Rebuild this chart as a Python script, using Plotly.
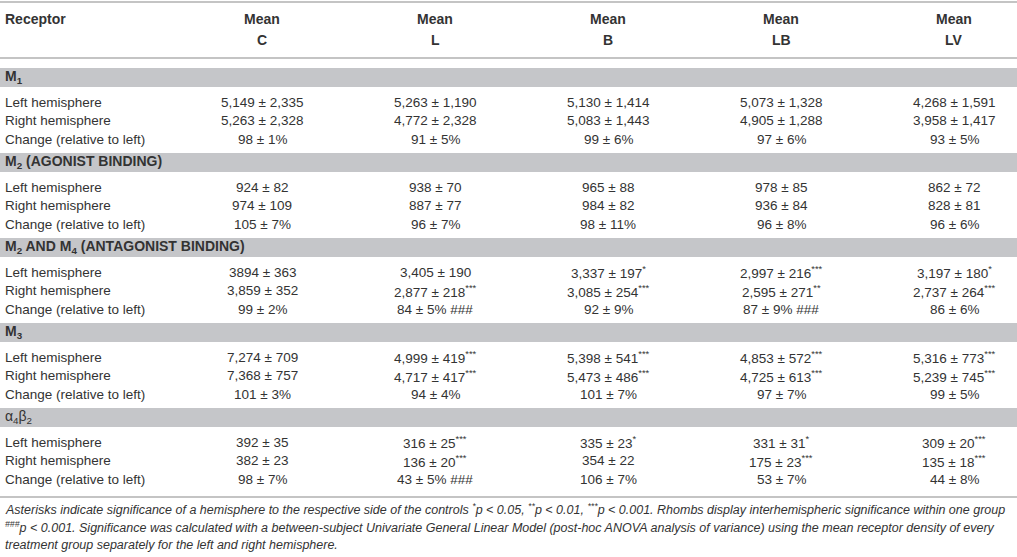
import plotly.graph_objects as go

# table content
groups = ["C", "L", "B", "LB", "LV"]
row_labels = ["Left hemisphere", "Right hemisphere", "Change (relative to left)"]
sections = [
    "<b>M<sub>1</sub></b>",
    "<b>M<sub>2</sub> (AGONIST BINDING)</b>",
    "<b>M<sub>2</sub> AND M<sub>4</sub> (ANTAGONIST BINDING)</b>",
    "<b>M<sub>3</sub></b>",
    "α<sub>4</sub>β<sub>2</sub>",
]

m1_rows = [
    ["5,149 ± 2,335", "5,263 ± 1,190", "5,130 ± 1,414", "5,073 ± 1,328", "4,268 ± 1,591"],
    ["5,263 ± 2,328", "4,772 ± 2,328", "5,083 ± 1,443", "4,905 ± 1,288", "3,958 ± 1,417"],
    ["98 ± 1%", "91 ± 5%", "99 ± 6%", "97 ± 6%", "93 ± 5%"],
]
m2_rows = [
    ["924 ± 82", "938 ± 70", "965 ± 88", "978 ± 85", "862 ± 72"],
    ["974 ± 109", "887 ± 77", "984 ± 82", "936 ± 84", "828 ± 81"],
    ["105 ± 7%", "96 ± 7%", "98 ± 11%", "96 ± 8%", "96 ± 6%"],
]
m2m4_rows = [
    ["3894 ± 363", "3,405 ± 190", "3,337 ± 197<sup>*</sup>", "2,997 ± 216<sup>***</sup>", "3,197 ± 180<sup>*</sup>"],
    ["3,859 ± 352", "2,877 ± 218<sup>***</sup>", "3,085 ± 254<sup>***</sup>", "2,595 ± 271<sup>**</sup>", "2,737 ± 264<sup>***</sup>"],
    ["99 ± 2%", "84 ± 5% ###", "92 ± 9%", "87 ± 9% ###", "86 ± 6%"],
]
m3_rows = [
    ["7,274 ± 709", "4,999 ± 419<sup>***</sup>", "5,398 ± 541<sup>***</sup>", "4,853 ± 572<sup>***</sup>", "5,316 ± 773<sup>***</sup>"],
    ["7,368 ± 757", "4,717 ± 417<sup>***</sup>", "5,473 ± 486<sup>***</sup>", "4,725 ± 613<sup>***</sup>", "5,239 ± 745<sup>***</sup>"],
    ["101 ± 3%", "94 ± 4%", "101 ± 7%", "97 ± 7%", "99 ± 5%"],
]
a4b2_rows = [
    ["392 ± 35", "316 ± 25<sup>***</sup>", "335 ± 23<sup>*</sup>", "331 ± 31<sup>*</sup>", "309 ± 20<sup>***</sup>"],
    ["382 ± 23", "136 ± 20<sup>***</sup>", "354 ± 22", "175 ± 23<sup>***</sup>", "135 ± 18<sup>***</sup>"],
    ["98 ± 7%", "43 ± 5% ###", "106 ± 7%", "53 ± 7%", "44 ± 8%"],
]
section_rows = [m1_rows, m2_rows, m2m4_rows, m3_rows, a4b2_rows]

footnote = [
    "Asterisks indicate significance of a hemisphere to the respective side of the controls <sup>*</sup>p &lt; 0.05, "
    "<sup>**</sup>p &lt; 0.01, <sup>***</sup>p &lt; 0.001. Rhombs display interhemispheric significance within one group",
    "<sup>###</sup>p &lt; 0.001. Significance was calculated with a between-subject Univariate General Linear Model "
    "(post-hoc ANOVA analysis of variance) using the mean receptor density of every",
    "treatment group separately for the left and right hemisphere.",
]

W, H = 1017, 557
txt = "#333333"
rule = "#c4c4c4"
band = "#c5c6c9"
font = "Liberation Sans, Arial, sans-serif"
col_x = [262, 435, 608, 781, 954]

fig = go.Figure()
fig.add_trace(go.Scatter(x=[0, W], y=[0, H], mode="markers", marker=dict(opacity=0), hoverinfo="skip"))

shapes = []
ann = []

def line(y):
    shapes.append(dict(type="line", x0=0, x1=W, y0=y, y1=y, line=dict(color=rule, width=2)))

def text(x, y, s, anchor="center", size=13.5, italic=False):
    ann.append(dict(x=x, y=y, text=s, showarrow=False, xanchor=anchor, yanchor="middle",
                    font=dict(family=font, size=size, color=txt,
                              style="italic" if italic else "normal")))

# header
line(2)
line(58)
text(3, 19, "<b>Receptor</b>", "left", size=14)
for cx, g in zip(col_x, groups):
    text(cx, 19, "<b>Mean</b>", size=14)
    text(cx, 40, "<b>%s</b>" % g, size=14)

# body
for i, (label, rows) in enumerate(zip(sections, section_rows)):
    top = 68 + 85 * i
    shapes.append(dict(type="rect", x0=0, x1=W, y0=top, y1=top + 19, fillcolor=band, line=dict(width=0), layer="below"))
    text(3, top + 9, label, "left", size=14)
    for j, (rl, vals) in enumerate(zip(row_labels, rows)):
        y = top + 34 + 18.5 * j
        text(3, y, rl, "left")
        for cx, v in zip(col_x, vals):
            text(cx, y, v)

line(497)
for k, s in enumerate(footnote):
    text(3, 509 + 18 * k, s, "left", size=12.5, italic=True)

fig.update_layout(
    width=W, height=H,
    margin=dict(l=0, r=0, t=0, b=0),
    paper_bgcolor="white", plot_bgcolor="white",
    showlegend=False,
    shapes=shapes, annotations=ann,
    xaxis=dict(range=[0, W], visible=False, fixedrange=True),
    yaxis=dict(range=[H, 0], visible=False, fixedrange=True),
)

fig.write_html("out.html", config={"displayModeBar": False},
               post_script="document.body.style.margin='0';")
